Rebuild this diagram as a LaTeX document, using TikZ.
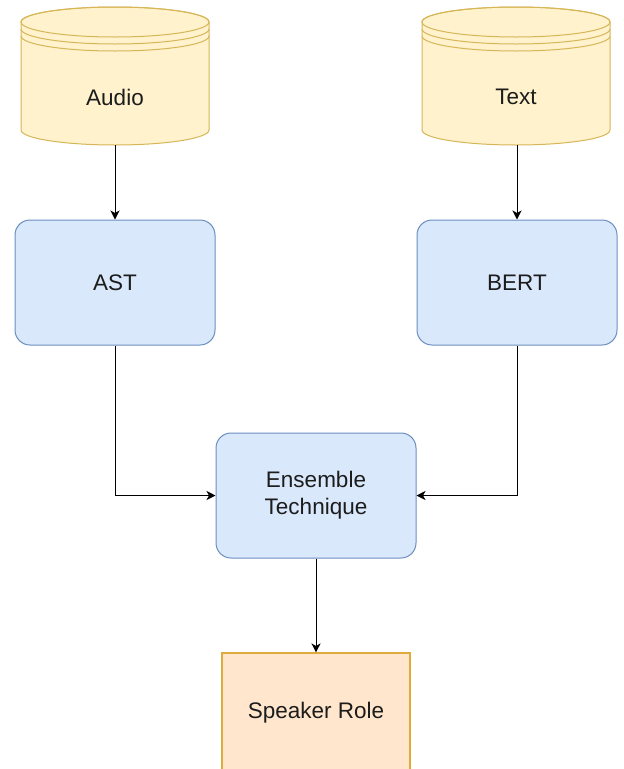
\documentclass[tikz,border=0pt]{standalone}
\usepackage{fontspec}
\setmainfont{Liberation Sans}
\usetikzlibrary{arrows.meta}
\definecolor{dbfill}{HTML}{FFF2CC}
\definecolor{dbline}{HTML}{D6B656}
\definecolor{bfill}{HTML}{DAE8FC}
\definecolor{bline}{HTML}{6C8EBF}
\definecolor{ofill}{HTML}{FFE6CC}
\definecolor{oline}{HTML}{DFAB3A}
\definecolor{txt}{HTML}{1C1C1C}
\begin{document}
\begin{tikzpicture}[x=1pt,y=-1pt,
  font=\fontsize{22.5}{27}\selectfont, text=txt,
  proc/.style={draw=bline, fill=bfill, rounded corners=15pt, line width=1pt,
    minimum width=200pt, minimum height=125pt, inner sep=0pt, align=center},
  outbox/.style={draw=oline, fill=ofill, line width=1.1pt,
    minimum width=188pt, minimum height=120pt, inner sep=0pt, align=center},
  dbarea/.style={minimum width=188pt, minimum height=138pt, inner sep=0pt},
  dbshape/.style={draw=dbline, fill=dbfill, line width=1pt},
  conn/.style={-{Stealth[length=9pt,width=9pt,inset=2.5pt]}, line width=1pt, draw=black}]
\useasboundingbox (0,0) rectangle (624,769);

% cylinders
\foreach \cx in {115,516}{
  \path[dbshape] (\cx-94,22) -- (\cx-94,130)
    arc[start angle=180, end angle=360, x radius=94pt, y radius=15pt]
    -- (\cx+94,22)
    arc[start angle=0, end angle=180, x radius=94pt, y radius=15pt] -- cycle;
  \draw[dbshape, fill=none] (\cx,22) ellipse[x radius=94pt, y radius=15pt];
  \draw[dbshape, fill=none] (\cx-94,29) arc[start angle=180, end angle=360, x radius=94pt, y radius=15pt];
  \draw[dbshape, fill=none] (\cx-94,36) arc[start angle=180, end angle=360, x radius=94pt, y radius=15pt];
}
\node[dbarea, label={[yshift=-21pt]center:Audio}] (audio) at (115,76) {};
\node[dbarea, label={[yshift=-21pt]center:Text}] (text) at (516,76) {};

\node[proc] (ast) at (115,282.5) {AST};
\node[proc] (bert) at (517,282.5) {BERT};
\node[proc] (ens) at (316,495.5) {Ensemble\\Technique};
\node[outbox] (spk) at (316,713) {\raisebox{-2pt}{Speaker Role}};

\draw[conn] (audio) -- (ast);
\draw[conn] (text.south -| bert.north) -- (bert.north);
\draw[conn] (ast.south) |- (ens.west);
\draw[conn] (bert.south) |- (ens.east);
\draw[conn] (ens) -- (spk);
\end{tikzpicture}
\end{document}
